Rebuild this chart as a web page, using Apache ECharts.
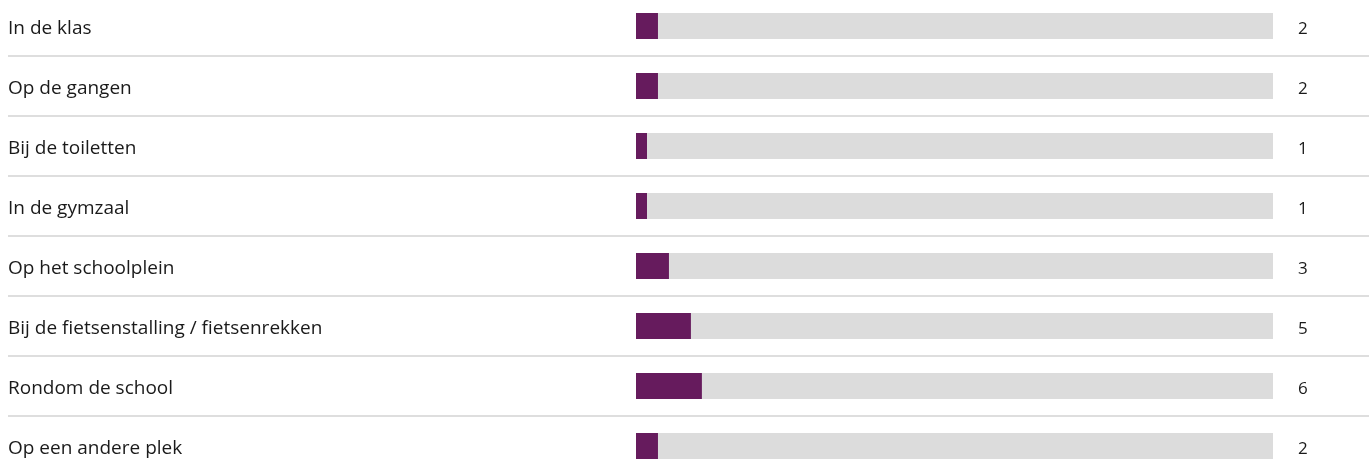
<!DOCTYPE html>
<html>
<head>
<meta charset="utf-8">
<style>
  html, body { margin: 0; padding: 0; background: #fff; }
  #chart { width: 1370px; height: 466px; }
</style>
<script src="https://cdn.jsdelivr.net/npm/echarts@6/dist/echarts.min.js"></script>
</head>
<body>
<div id="chart"></div>
<script>
// categorieen en waarden (aantal)
var categories = [
	'In de klas',
	'Op de gangen',
	'Bij de toiletten',
	'In de gymzaal',
	'Op het schoolplein',
	'Bij de fietsenstalling / fietsenrekken',
	'Rondom de school',
	'Op een andere plek'
];
var values = [2, 2, 1, 1, 3, 5, 6, 2];
var axisMax = 58;

var font = '"Open Sans", sans-serif';
var myChart = echarts.init(document.getElementById('chart'));

var option = {
	animation: false,
	grid: [
		// grid voor labels en scheidingslijnen
		{ left: 8, right: 1, top: -4, height: 480, outerBoundsMode: 'none' },
		// grid voor de balken
		{ left: 636, width: 637, top: -4, height: 480, outerBoundsMode: 'none' }
	],
	xAxis: [
		{ gridIndex: 0, type: 'value', show: false, min: 0, max: 1 },
		{ gridIndex: 1, type: 'value', show: false, min: 0, max: axisMax }
	],
	yAxis: [
		{
			gridIndex: 0,
			type: 'category',
			inverse: true,
			data: categories,
			axisLine: { show: false },
			axisTick: { show: false },
			splitLine: { show: true, lineStyle: { color: '#dedede', width: 2 } },
			axisLabel: {
				inside: true,
				margin: 0,
				align: 'left',
				color: '#1a1a1a',
				fontSize: 19,
				fontFamily: font,
				formatter: function(v) { return '{a|' + v + '}'; },
				rich: { a: { padding: [6, 0, 0, 0], fontSize: 19, fontFamily: font, color: '#1a1a1a' } }
			}
		},
		{
			gridIndex: 1,
			type: 'category',
			inverse: true,
			position: 'right',
			data: categories,
			axisLine: { show: false },
			axisTick: { show: false },
			axisLabel: {
				margin: 25,
				align: 'left',
				color: '#1a1a1a',
				fontSize: 17,
				fontFamily: font,
				formatter: function(v, i) { return '{a|' + values[i] + '}'; },
				rich: { a: { padding: [6, 0, 0, 0], fontSize: 17, fontFamily: font, color: '#1a1a1a' } }
			}
		}
	],
	series: [
		{
			type: 'bar',
			xAxisIndex: 1,
			yAxisIndex: 1,
			data: values,
			barWidth: 26,
			itemStyle: { color: '#661b5d' },
			showBackground: true,
			backgroundStyle: { color: '#dcdcdc' }
		}
	]
};
myChart.setOption(option);
</script>
</body>
</html>
